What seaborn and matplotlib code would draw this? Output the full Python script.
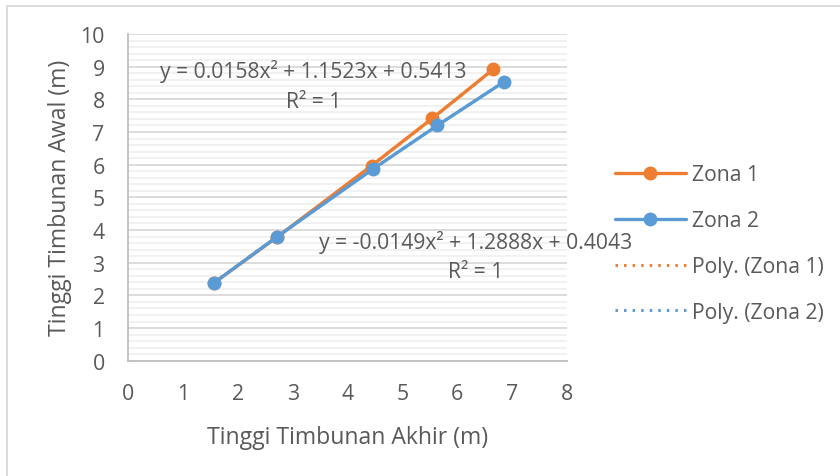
import numpy as np
import pandas as pd
import matplotlib
matplotlib.use("Agg")
import matplotlib.pyplot as plt
from matplotlib.lines import Line2D
from matplotlib.patches import Rectangle
from matplotlib.ticker import MultipleLocator
import seaborn as sns

# Settlement data: final fill height (x) vs initial fill height (y)
zona1_akhir = [1.57, 2.72, 4.44, 5.55, 6.66]
zona1_awal = [2.39, 3.79, 5.97, 7.42, 8.92]
zona2_akhir = [1.57, 2.72, 4.46, 5.64, 6.86]
zona2_awal = [2.39, 3.80, 5.86, 7.20, 8.54]
series_names = ["Zona 1", "Zona 2"]
trend_labels = ["Poly. (Zona 1)", "Poly. (Zona 2)"]
eq_lines = ["y = 0.0158x² + 1.1523x + 0.5413", "y = -0.0149x² + 1.2888x + 0.4043"]
r2_text = "R² = 1"
x_ticks = list(range(0, 9))
y_ticks = list(range(0, 11))

ORANGE = "#ED7D31"
BLUE = "#5B9BD5"
TXT = "#595959"
DOTS = (0, (0.8, 2.0))
FS_TICK = 15.3
FS_EQ = 15.2
FS_LABEL = 16.6
FS_LEG = 15.2

sns.set_theme(style="white")
plt.rcParams["font.family"] = ["Open Sans", "DejaVu Sans"]

df = pd.DataFrame({
    "akhir": zona1_akhir + zona2_akhir,
    "awal": zona1_awal + zona2_awal,
    "zona": [series_names[0]] * len(zona1_akhir) + [series_names[1]] * len(zona2_akhir),
})

fig = plt.figure(figsize=(8.4, 4.77), dpi=100)
ax = fig.add_axes([0.1527, 0.2417, 0.5219, 0.6849])

# outer chart frame
fig.patches.append(Rectangle((6.5 / 840, -0.1), 1.2, 1.1 - 6.5 / 477,
                             transform=fig.transFigure, fill=False,
                             edgecolor="#d9d9d9", linewidth=1.3, zorder=0))

# polynomial trendlines (dotted)
palette = {series_names[0]: ORANGE, series_names[1]: BLUE}
for name in series_names:
    sub = df[df["zona"] == name]
    coef = np.polyfit(sub["akhir"], sub["awal"], 2)
    xs = np.linspace(sub["akhir"].min(), sub["akhir"].max(), 100)
    ax.plot(xs, np.polyval(coef, xs), linestyle=DOTS, color=palette[name],
            linewidth=2.2, zorder=2)

sns.lineplot(data=df, x="akhir", y="awal", hue="zona", palette=palette,
             sort=False, estimator=None, marker="o", markersize=10,
             markeredgewidth=0, linewidth=2.4, legend=False, ax=ax, zorder=3)

ax.set_xlim(0, 8)
ax.set_ylim(0, 10)
ax.set_xticks(x_ticks)
ax.set_yticks(y_ticks)
ax.yaxis.set_minor_locator(MultipleLocator(0.2))
ax.grid(True, which="major", axis="y", color="#d9d9d9", linewidth=1.3, zorder=0)
ax.grid(True, which="minor", axis="y", color="#eeeeee", linewidth=1.1, zorder=0)
ax.set_axisbelow(True)
for s in ["top", "right"]:
    ax.spines[s].set_visible(False)
for s in ["left", "bottom"]:
    ax.spines[s].set_color("#bfbfbf")
    ax.spines[s].set_linewidth(1.3)
ax.tick_params(axis="both", which="major", direction="out", length=5, width=1.3,
               color="#bfbfbf", labelsize=FS_TICK, labelcolor=TXT)
ax.tick_params(axis="x", which="major", pad=11)
ax.tick_params(axis="y", which="major", pad=12)
ax.tick_params(axis="y", which="minor", length=0)

ax.set_xlabel("Tinggi Timbunan Akhir (m)", fontsize=FS_LABEL, color=TXT, labelpad=15)
ax.set_ylabel("Tinggi Timbunan Awal (m)", fontsize=FS_LABEL, color=TXT, labelpad=6)

# trendline equations
ax.text(3.376, 8.675, eq_lines[0], ha="center", va="baseline", fontsize=FS_EQ,
        color=TXT, clip_on=False)
ax.text(3.389, 7.775, r2_text, ha="center", va="baseline", fontsize=FS_EQ,
        color=TXT, clip_on=False)
ax.text(6.336, 3.45, eq_lines[1], ha="center", va="baseline", fontsize=FS_EQ,
        color=TXT, clip_on=False)
ax.text(6.33, 2.553, r2_text, ha="center", va="baseline", fontsize=FS_EQ,
        color=TXT, clip_on=False)

handles = [
    Line2D([], [], color=ORANGE, linewidth=2.4, marker="o", markersize=10, markeredgewidth=0),
    Line2D([], [], color=BLUE, linewidth=2.4, marker="o", markersize=10, markeredgewidth=0),
    Line2D([], [], color=ORANGE, linewidth=2.2, linestyle=DOTS),
    Line2D([], [], color=BLUE, linewidth=2.2, linestyle=DOTS),
]
leg = fig.legend(handles, series_names + trend_labels, loc="center left",
                 bbox_to_anchor=(0.7095, 0.4874), frameon=False, fontsize=FS_LEG,
                 handlelength=3.36, handletextpad=0.28, labelspacing=1.18,
                 labelcolor=TXT)

fig.savefig("out.png", dpi=100)
